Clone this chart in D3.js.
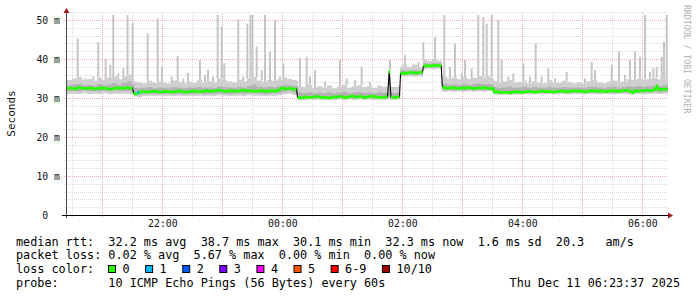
<!DOCTYPE html>
<html>
<head>
<meta charset="utf-8">
<script src="https://cdn.jsdelivr.net/npm/d3@7"></script>
<style>
  html, body { margin: 0; padding: 0; background: #fff; }
  svg text { font-family: "DejaVu Sans Mono", monospace; white-space: pre; }
</style>
</head>
<body>
<svg id="chart" width="697" height="297"></svg>
<script>
// graph window: minutes are counted from t0
const t0 = new Date(2025, 11, 10, 20, 24, 40);
const spanMin = 601;

const yTicks = [0, 10, 20, 30, 40, 50];
const xTickLabels = ["2025-12-10T22:00", "2025-12-11T00:00", "2025-12-11T02:00", "2025-12-11T04:00", "2025-12-11T06:00"];

// median rtt, [minute, ms]
const medianRtt = [
  [0,32.4],[4,32.6],[8,32.3],[12,32.7],[16,32.5],[20,32.4],[24,32.6],[28,32.3],[32,32.5],[36,32.6],
  [40,32.4],[44,32.2],[48,32.5],[52,32.6],[56,32.4],[60,32.7],[64,32.5],[65.5,32.6],
  [66.5,31.3],[69,31.0],[72,31.4],[76,31.7],[80,31.5],[84,31.6],[88,31.8],[92,31.5],[96,31.6],[100,31.7],
  [104,31.5],[108,31.6],[112,31.8],[116,31.6],[120,31.5],[124,31.7],[128,31.8],[132,31.6],[136,31.7],
  [140,31.9],[144,31.7],[148,31.8],[152,32.0],[156,31.8],[160,31.7],[164,31.9],[168,31.7],[172,31.8],
  [176,32.0],[180,31.8],[184,31.9],[188,31.7],[192,31.8],[196,31.9],[200,31.7],[204,31.9],[208,31.8],
  [212,32.0],[215,32.6],[218,32.3],[222,32.5],[226,32.2],[229.5,32.4],
  [230.5,30.2],[234,30.0],[238,30.3],[242,30.1],[246,30.2],[250,30.4],[254,30.1],[258,30.2],[262,30.0],
  [266,30.3],[270,30.2],[274,30.4],[278,30.1],[282,30.3],[286,30.5],[290,30.2],[294,30.4],[298,30.1],
  [302,30.3],[306,30.5],[310,30.2],[314,30.1],[318,30.3],[320.5,30.2],
  [322.2,36.7],
  [324,30.3],[327,30.1],[330,30.3],[332.5,30.2],
  [333.5,36.2],[336,36.4],[340,36.3],[344,36.6],[348,36.4],[352,36.5],[355.5,36.6],
  [356.5,38.1],[360,38.3],[364,38.2],[368,38.4],[372,38.3],[374.3,38.2],
  [375.3,32.8],[378,32.6],[382,32.5],[386,32.7],[390,32.4],[394,32.6],[398,32.5],[402,32.7],[406,32.4],
  [410,32.6],[414,32.5],[418,32.7],[422,32.4],[426,32.5],
  [427.5,31.5],[431,31.6],[435,31.4],[439,31.5],[443,31.3],[447,31.5],[451,31.6],[455,31.4],[459,31.6],
  [463,31.7],[467,31.5],[471,31.6],[475,31.8],[479,31.6],[483,31.7],[487,31.5],[491,31.7],[495,31.8],
  [499,31.6],[503,31.7],[507,31.9],[511,31.7],[515,31.8],[519,31.6],[523,31.8],[527,31.9],[531,31.7],
  [535,31.8],[539,31.6],[543,31.8],[547,31.9],[551,31.7],[555,31.8],[559,32.0],[563,31.8],[566,31.3],
  [568,31.9],[572,31.7],[576,31.9],[580,32.0],[584,31.8],[588,32.2],[590,33.0],[592,32.1],[596,32.3],[601,32.3]
];

// smoke band, [minute, low, inner low, inner high, high] in ms
const smokeBand = [
  [0,31.0,31.7,33.2,34.6],[5,31.1,31.8,33.5,35.0],[10,31.0,31.7,33.6,35.4],[15,31.2,31.9,33.3,34.7],
  [20,31.0,31.8,33.4,34.9],[25,31.1,31.8,33.2,34.4],[30,31.0,31.7,33.6,35.2],[35,31.2,31.8,33.3,34.6],
  [40,31.0,31.7,33.5,35.1],[45,31.1,31.9,33.8,35.5],[50,31.0,31.8,33.4,34.8],[55,31.1,31.7,33.9,35.6],
  [60,31.0,31.8,34.2,36.0],[65,30.8,31.6,33.6,35.2],
  [67,30.4,31.0,32.6,34.2],[70,30.2,30.8,32.5,34.0],[75,30.5,31.0,32.6,33.8],[80,30.6,31.1,32.8,34.4],
  [85,30.5,31.0,32.5,33.9],[90,30.6,31.1,32.7,34.3],[95,30.5,31.0,32.6,34.0],[100,30.6,31.1,32.5,33.7],
  [105,30.5,31.0,32.8,34.5],[110,30.6,31.1,32.6,34.1],[115,30.5,31.0,32.5,33.8],[120,30.6,31.1,32.7,34.2],
  [125,30.5,31.0,32.6,33.9],[130,30.6,31.2,32.8,34.6],[135,30.5,31.0,32.6,34.0],[140,30.6,31.1,32.7,34.3],
  [145,30.5,31.1,32.6,34.0],[150,30.7,31.2,33.0,35.0],[155,30.6,31.1,32.8,34.6],[160,30.5,31.0,32.7,34.2],
  [165,30.6,31.1,32.6,34.0],[170,30.6,31.2,32.9,34.7],[175,30.5,31.1,32.7,34.3],[180,30.7,31.2,33.1,35.0],
  [185,30.6,31.2,33.4,35.4],[190,30.6,31.1,32.8,34.5],[195,30.5,31.0,32.7,34.1],[200,30.6,31.1,32.9,34.6],
  [205,30.6,31.2,32.8,34.4],[210,30.7,31.2,33.0,34.8],[215,31.0,31.6,33.4,35.3],[220,31.1,31.7,33.3,34.9],
  [225,30.8,31.4,33.1,34.6],[230,30.6,31.2,32.9,34.3],
  [231,29.4,29.8,31.4,33.0],[235,29.5,29.9,31.3,32.8],[240,29.6,30.0,31.5,33.4],[245,29.5,29.9,31.2,32.6],
  [250,29.6,30.0,31.4,33.0],[255,29.5,29.9,31.3,32.7],[260,29.6,30.0,31.5,33.2],[265,29.5,29.9,31.2,32.5],
  [270,29.6,30.0,31.4,32.9],[275,29.5,29.9,31.6,33.4],[280,29.6,30.0,31.3,32.7],[285,29.5,29.9,31.4,33.0],
  [290,29.6,30.0,31.5,33.3],[295,29.5,29.9,31.3,32.8],[300,29.6,30.0,31.4,33.1],[305,29.5,29.9,31.2,32.6],
  [310,29.6,30.0,31.5,33.2],[315,29.5,29.9,31.3,32.9],[320,29.6,30.0,31.4,33.0],
  [321.5,29.8,30.4,36.0,37.2],[323.5,29.5,29.9,31.3,32.8],[330,29.6,30.0,31.4,33.0],
  [333,35.4,35.8,37.0,38.0],[335,35.5,35.9,37.1,38.4],[340,35.6,36.0,37.0,38.0],[345,35.5,35.9,37.2,38.6],
  [350,35.6,36.0,37.0,37.8],[355,35.5,35.9,37.1,38.2],
  [356,37.4,37.8,38.9,39.8],[360,37.5,37.9,38.8,39.5],[365,37.4,37.8,39.0,40.0],[370,37.5,37.9,38.9,39.6],
  [374,37.4,37.8,38.8,39.5],
  [375,31.6,32.1,33.6,35.5],[380,31.7,32.1,33.4,35.0],[385,31.6,32.0,33.5,35.3],[390,31.7,32.1,33.3,34.8],
  [395,31.6,32.0,33.6,35.4],[400,31.7,32.1,33.4,34.9],[405,31.6,32.0,33.5,35.2],[410,31.7,32.1,33.7,35.6],
  [415,31.6,32.0,33.5,35.2],[420,31.7,32.1,33.6,35.5],[425,31.6,32.0,33.4,35.0],
  [427,30.9,31.3,32.8,34.4],[430,30.8,31.2,32.6,34.0],[435,30.9,31.3,32.7,34.2],[440,30.8,31.2,32.9,34.6],
  [445,30.9,31.3,32.6,33.9],[450,30.9,31.3,32.7,34.1],[455,31.0,31.4,32.9,34.5],[460,30.9,31.3,32.6,33.8],
  [465,30.9,31.3,32.8,34.3],[470,31.0,31.4,32.7,34.0],[475,30.9,31.3,32.6,33.8],[480,31.0,31.4,32.9,34.6],
  [485,30.9,31.3,32.7,34.0],[490,31.0,31.4,32.6,33.9],[495,31.0,31.4,32.8,34.4],[500,30.9,31.3,32.7,34.1],
  [505,31.0,31.4,32.6,33.8],[510,31.0,31.4,32.7,34.0],[515,30.9,31.3,32.6,33.7],[520,31.0,31.4,32.8,34.3],
  [525,31.0,31.4,32.9,34.6],[530,30.9,31.3,32.7,34.0],[535,31.0,31.4,32.6,33.8],[540,31.0,31.4,32.8,34.2],
  [545,30.9,31.3,32.9,34.5],[550,31.0,31.4,32.7,34.1],[555,31.0,31.4,32.8,34.3],[560,30.9,31.4,33.0,34.8],
  [565,31.0,31.4,32.9,34.6],[570,31.0,31.5,33.1,35.0],[575,30.9,31.4,32.9,34.7],[580,31.0,31.5,33.0,34.9],
  [585,31.1,31.6,33.2,35.2],[590,31.0,31.5,33.0,34.8],[595,31.1,31.6,33.3,35.3],[601,31.2,31.7,33.2,35.0]
];

// single-ping outliers above the smoke, [minute, top ms]
const spikes = [
  [10.7,45.3],[18,35.0],[26.3,35.5],[31.3,44.4],[38.7,39.9],[43.3,38.5],[46.3,51.3],[51.3,36.3],
  [56.3,37.6],[60.5,51.3],[65.7,49.3],[80.7,46.6],[90.7,50.4],[95,38.0],[104.7,35.5],[110.7,40.8],
  [116.3,35.0],[121,36.4],[133,39.7],[138,35.9],[141,37.2],[146,35.5],[150.7,51.3],[154.7,48.3],
  [157.3,38.9],[171.3,50.2],[176.3,35.5],[180.3,49.1],[183.5,51.3],[185.5,51.3],[189.7,43.2],[194.7,37.2],
  [198,51.3],[203,41.9],[208,50.0],[213,35.5],[216.3,38.9],[233,40.2],[239.7,40.6],[243,35.5],
  [248,37.2],[258,34.2],[273,39.7],[279.7,35.0],[288,34.6],[294.7,38.0],[303,34.2],
  [323,39.7],[338,41.0],[351.3,39.3],[356.3,44.4],[368,45.7],[377.3,51.3],[383,38.0],[388,44.0],
  [394.7,36.3],[398,39.7],[404.7,37.6],[411.3,51.3],[416.3,50.8],[419.7,49.1],[424.7,51.3],[431.3,50.0],
  [434.7,39.7],[441.3,35.5],[446.3,36.3],[456.3,38.9],[463,35.5],[468.7,44.0],[474.7,35.5],[481.3,37.6],
  [488,35.0],[499.7,36.7],[518,35.0],[524.7,39.3],[528,37.2],[544.7,38.5],[552,41.9],[558,35.9],
  [563,39.7],[568,41.9],[573,40.6],[578,51.3],[583,36.7],[586.3,37.6],[589.7,38.0],[594.7,40.6],
  [597,44.4],[599.7,51.3]
];

// minutes with lost pings, [minute, ms, lost count]
const lossMarks = [[71, 31.4, 1]];

const lossLabels = ["0", "1", "2", "3", "4", "5", "6-9", "10/10"];
const lossColors = ["#26ff00", "#00b8ff", "#0059ff", "#7e00ff", "#ff00ff", "#ff5500", "#ff0000", "#a10000"];
const rttStats = ["32.2 ms avg", "38.7 ms max", "30.1 ms min", "32.3 ms now", "1.6 ms sd", "20.3   am/s"];
const lossStats = ["0.02 % avg", "5.67 % max", "0.00 % min", "0.00 % now"];
const probeText = "10 ICMP Echo Pings (56 Bytes) every 60s";
const stampText = "Thu Dec 11 06:23:37 2025";

const svg = d3.select("#chart");
const pLeft = 67, pRight = 668, pBottom = 215, pTop = 12;

const x = d3.scaleTime()
  .domain([t0, d3.timeMinute.offset(t0, spanMin)])
  .range([pLeft, pRight]);
const y = d3.scaleLinear().domain([0, 50]).range([pBottom, 20]);
const tm = m => x(new Date(t0.getTime() + m * 60000));

svg.append("rect").attr("width", 697).attr("height", 297).attr("fill", "#fff");

// grid
const grid = svg.append("g").attr("shape-rendering", "crispEdges");
const hLines = d3.range(2, 53, 2);
grid.selectAll(".hminor").data(hLines.filter(v => v % 10 !== 0)).enter().append("line")
  .attr("x1", pLeft - 3).attr("x2", pRight)
  .attr("y1", d => Math.round(y(d)) + 0.5).attr("y2", d => Math.round(y(d)) + 0.5)
  .attr("stroke", "#dadada").attr("stroke-dasharray", "1,1");
const vMinor = x.ticks(d3.timeMinute.every(30)).filter(d => d.getMinutes() !== 0);
grid.selectAll(".vminor").data(vMinor).enter().append("line")
  .attr("x1", d => Math.round(x(d)) + 0.5).attr("x2", d => Math.round(x(d)) + 0.5)
  .attr("y1", pTop).attr("y2", pBottom + 2)
  .attr("stroke", "#dadada").attr("stroke-dasharray", "1,1");
grid.selectAll(".hmajor").data(yTicks.filter(v => v > 0)).enter().append("line")
  .attr("x1", pLeft - 3).attr("x2", pRight)
  .attr("y1", d => Math.round(y(d)) + 0.5).attr("y2", d => Math.round(y(d)) + 0.5)
  .attr("stroke", "#efadad").attr("stroke-dasharray", "1,1");
grid.selectAll(".vmajor").data(x.ticks(d3.timeHour.every(1))).enter().append("line")
  .attr("x1", d => Math.round(x(d)) + 0.5).attr("x2", d => Math.round(x(d)) + 0.5)
  .attr("y1", pTop).attr("y2", pBottom + 3)
  .attr("stroke", "#efadad").attr("stroke-dasharray", "1,1");

// smoke
const plot = svg.append("g");
plot.append("path").datum(smokeBand)
  .attr("fill", "#cfcfcf")
  .attr("d", d3.area().curve(d3.curveStepAfter)
    .x(d => tm(d[0])).y0(d => y(d[1])).y1(d => y(d[4])));

const bandAt = d3.bisector(d => d[0]).right;
plot.selectAll(".spike").data(spikes).enter().append("rect")
  .attr("x", d => tm(d[0]) - 1)
  .attr("width", 2)
  .attr("y", d => y(d[1]))
  .attr("height", d => {
    const row = smokeBand[Math.max(0, bandAt(smokeBand, d[0]) - 1)];
    return Math.max(0, y(row[4]) - y(d[1]));
  })
  .attr("fill", "#c6c6c6");

plot.append("path").datum(smokeBand)
  .attr("fill", "#b3b3b3")
  .attr("d", d3.area().curve(d3.curveStepAfter)
    .x(d => tm(d[0])).y0(d => y(d[2])).y1(d => y(d[3])));

// median: thin black line, green where there is no jump
const medLine = d3.line().x(d => tm(d[0])).y(d => y(d[1]));
plot.append("path").datum(medianRtt)
  .attr("fill", "none").attr("stroke", "#000").attr("stroke-width", 1.1)
  .attr("d", medLine);

const runs = [[medianRtt[0]]];
for (let i = 1; i < medianRtt.length; i++) {
  if (Math.abs(medianRtt[i][1] - medianRtt[i - 1][1]) > 1.2) runs.push([]);
  runs[runs.length - 1].push(medianRtt[i]);
}
runs.forEach(run => {
  if (run.length > 1) {
    plot.append("path").datum(run)
      .attr("fill", "none").attr("stroke", lossColors[0]).attr("stroke-width", 2.8)
      .attr("d", medLine);
  } else {
    plot.append("rect")
      .attr("x", tm(run[0][0]) - 1).attr("y", y(run[0][1]) - 1.4)
      .attr("width", 2).attr("height", 2.8).attr("fill", lossColors[0]);
  }
});
plot.selectAll(".loss").data(lossMarks).enter().append("rect")
  .attr("x", d => tm(d[0]) - 1).attr("y", d => y(d[1]) - 1.4)
  .attr("width", 2).attr("height", 2.8)
  .attr("fill", d => lossColors[d[2]]);

// axes
svg.append("line")
  .attr("x1", pLeft - 0.5).attr("x2", pLeft - 0.5).attr("y1", pBottom + 3).attr("y2", pTop - 1)
  .attr("stroke", "#444").attr("shape-rendering", "crispEdges");
svg.append("line")
  .attr("x1", pLeft - 5).attr("x2", pRight).attr("y1", pBottom + 0.5).attr("y2", pBottom + 0.5)
  .attr("stroke", "#000").attr("shape-rendering", "crispEdges");
svg.append("path").attr("d", `M${pLeft - 3.5},${pTop + 1}L${pLeft + 2.5},${pTop + 1}L${pLeft - 0.5},${pTop - 4}Z`)
  .attr("fill", "#9b1b1b");
svg.append("path").attr("d", `M${pRight},${pBottom - 2.5}L${pRight},${pBottom + 3.5}L${pRight + 5},${pBottom + 0.5}Z`)
  .attr("fill", "#9b1b1b");

const yAxis = svg.append("g")
  .attr("transform", `translate(${pLeft},0)`)
  .call(d3.axisLeft(y).tickValues(yTicks).tickSize(0).tickPadding(7)
    .tickFormat(d => d === 0 ? "0  " : d + " m"));
yAxis.select(".domain").remove();
yAxis.selectAll("text").attr("font-family", "DejaVu Sans Mono").attr("font-size", 9.8).attr("fill", "#111");

const xAxis = svg.append("g")
  .attr("transform", `translate(0,${pBottom})`)
  .call(d3.axisBottom(x).tickValues(xTickLabels.map(s => new Date(s)))
    .tickSize(0).tickPadding(5.5).tickFormat(d3.timeFormat("%H:%M")));
xAxis.select(".domain").remove();
xAxis.selectAll("text").attr("font-family", "DejaVu Sans Mono").attr("font-size", 9.8).attr("fill", "#111");

// titles
svg.append("text")
  .attr("transform", "translate(15,113.5) rotate(-90)")
  .attr("text-anchor", "middle")
  .style("font-size", "11px").attr("fill", "#111")
  .text("Seconds");

svg.append("text")
  .attr("transform", "translate(683.5,5) rotate(90)")
  .style("font-size", "8.2px").attr("fill", "#b0b0b0")
  .text("RRDTOOL / TOBI OETIKER");

// legend
const fs = 11.8, cw = fs * 0.602, lx = 16;
const legend = svg.append("g").style("font-size", fs + "px").attr("fill", "#000");
legend.append("text").attr("x", lx).attr("y", 245.5)
  .text("median rtt:  " + rttStats.join("  "));
legend.append("text").attr("x", lx).attr("y", 259)
  .text("packet loss: " + lossStats.join("  "));
legend.append("text").attr("x", lx).attr("y", 273).text("loss color:");
let bx = 108.5;
lossLabels.forEach((lab, i) => {
  legend.append("rect")
    .attr("x", bx).attr("y", 265.5).attr("width", 7).attr("height", 7)
    .attr("fill", lossColors[i]).attr("stroke", "#000").attr("stroke-width", 1);
  legend.append("text").attr("x", bx + 14).attr("y", 273).text(lab);
  bx += 14 + lab.length * cw + 16;
});
legend.append("text").attr("x", lx).attr("y", 287)
  .text("probe:       " + probeText);
legend.append("text").attr("x", 680).attr("y", 287).attr("text-anchor", "end")
  .text(stampText);
</script>
</body>
</html>
